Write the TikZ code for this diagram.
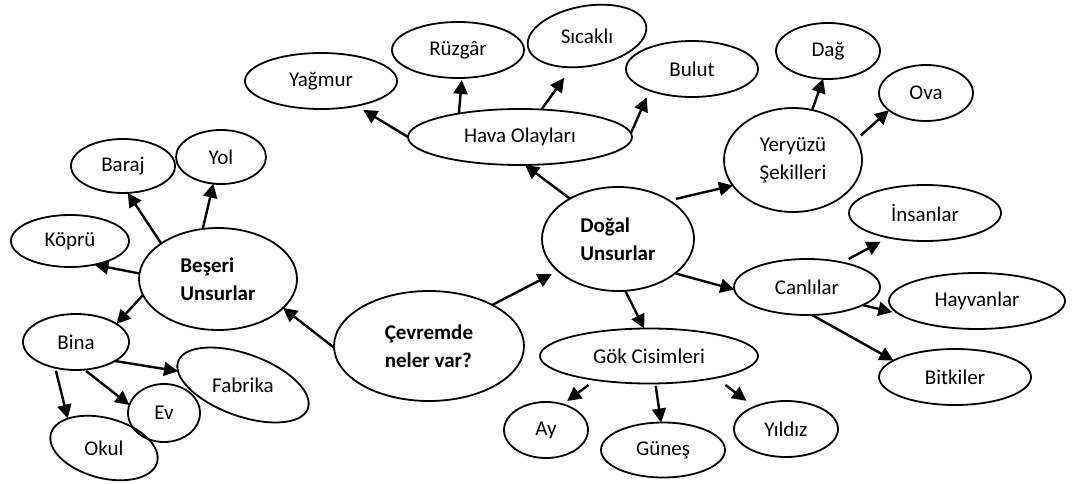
\documentclass[tikz,border=0pt]{standalone}
\usepackage{fontspec}
\setmainfont{Carlito}
\usetikzlibrary{arrows.meta,shapes.geometric}
\tikzset{
  bub/.style={draw, ellipse, line width=1.8pt, inner sep=0pt, outer sep=0pt,
    font=\fontsize{21}{28}\selectfont, align=center},
  boldtxt/.style={font=\fontsize{21}{28}\selectfont\bfseries, align=left},
  sz/.style 2 args={minimum width=#1pt, minimum height=#2pt},
  arr/.style={line width=2.4pt, -{Triangle[length=14pt,width=14pt]}},
}
\begin{document}
\begin{tikzpicture}[x=1pt,y=-1pt]
\useasboundingbox (0,0) rectangle (1078,484);
% left branch
\node[bub, boldtxt, sz={158}{102}] (bes) at (218,279) {Beşeri\\Unsurlar};
\node[bub, sz={104}{54}] (baraj) at (123,166) {Baraj};
\node[bub, sz={90}{54}] (yol) at (221,157) {Yol};
\node[bub, sz={118}{52}] (kopru) at (70,241) {Köprü};
\node[bub, sz={106}{56}] (bina) at (76,342) {Bina};
\node[bub, sz={138}{62}, rotate=-20] (fab) at (243,385) {\rotatebox{20}{Fabrika}};
\node[bub, sz={72}{58}] (ev) at (164,413) {Ev};
\node[bub, sz={110}{60}, rotate=-15] (okul) at (104,448) {\rotatebox{15}{Okul}};
% centre
\node[bub, boldtxt, sz={190}{110}] (cev) at (429,346) {Çevremde\\neler var?};
% top
\node[bub, sz={152}{56}] (yag) at (321,81) {Yağmur};
\node[bub, sz={132}{56}] (ruz) at (458,50) {Rüzgâr};
\node[bub, sz={120}{60}, rotate=10] (sic) at (587,36) {\rotatebox{-10}{Sıcaklı}};
\node[bub, sz={132}{56}] (bul) at (692,69) {Bulut};
\node[bub, sz={224}{56}] (hava) at (520,137) {Hava Olayları};
\node[bub, sz={104}{56}] (dag) at (828,51) {Dağ};
\node[bub, sz={94}{56}] (ova) at (926,93) {Ova};
\node[bub, sz={138}{104}] (yer) at (793,160) {Yeryüzü\\Şekilleri};
% right
\node[bub, boldtxt, sz={152}{104}] (dog) at (618,239) {Doğal\\Unsurlar};
\node[bub, sz={152}{56}] (ins) at (925,213) {İnsanlar};
\node[bub, sz={146}{56}] (can) at (807,287) {Canlılar};
\node[bub, sz={176}{56}] (hay) at (977,301) {Hayvanlar};
\node[bub, sz={152}{56}] (bit) at (955,377) {Bitkiler};
\node[bub, sz={218}{55}] (gok) at (649,356) {Gök Cisimleri};
\node[bub, sz={84}{56}] (ay) at (546,430) {Ay};
\node[bub, sz={124}{55}] (gun) at (663,450) {Güneş};
\node[bub, sz={104}{56}] (yil) at (786,429) {Yıldız};
% connectors
\draw[arr] (bes.148) -- (baraj.-80);
\draw[arr] (bes.107) -- (yol.-106);
\draw[arr] (bes.176) -- (kopru.-44);
\draw[arr] (bes.192) -- (bina.24);
\draw[arr] (bina.-26) -- (fab.188);
\draw[arr, shorten <=2pt] (bina.-73) -- (ev.167);
\draw[arr, shorten <=3pt] (bina.-129) -- (okul.156);
\draw[arr] (cev.181) -- (bes.-24);
\draw[arr, shorten >=8pt] (hava.180) -- (yag.-35);
\draw[arr, shorten >=2pt] (hava.159) -- (ruz.-82);
\draw[arr, shorten >=13pt] (hava.52) -- (sic.-126);
\draw[arr, shorten >=7.5pt] (hava.2) -- (bul.-153);
\draw[arr] (dog.140) -- (hava.-80);
\draw[arr] (yer.69) -- (dag.-100);
\draw[arr, shorten <=6pt] (yer.18) -- (ova.-155);
\draw[arr, shorten <=7pt] (dog.37) -- (yer.-157);
\draw[arr, shorten >=7pt] (cev.33) -- (dog.-152);
\draw[arr] (dog.-31) -- (can.-178);
\draw[arr] (dog.-82) -- (gok.100);
\draw[arr, shorten <=7.5pt, shorten >=9pt] (can.35) -- (ins.-146);
\draw[arr, shorten >=6pt] (can.-18) -- (hay.-171);
\draw[arr] (can.-80) -- (bit.165);
\draw[arr, shorten <=8.5pt, shorten >=5.5pt] (gok.-156) -- (ay.57);
\draw[arr, shorten <=2.5pt] (gok.-77) -- (gun.94);
\draw[arr, shorten <=12pt, shorten >=10pt] (gok.-18) -- (yil.145);
\end{tikzpicture}
\end{document}
